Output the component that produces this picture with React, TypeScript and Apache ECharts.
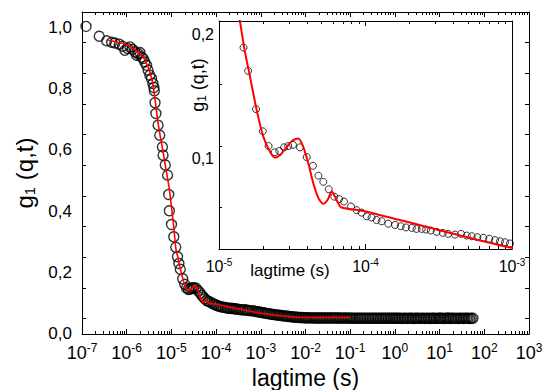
import React, { useEffect, useRef } from "react";
import * as echarts from "echarts";

// ---- measured correlation data (lag time in s, g1) ----
const earlyLag = [1.23e-7, 2.43e-7, 3.56e-7, 4.6e-7, 5.45e-7, 6.8e-7, 8.1e-7, 9.1e-7, 1.05e-6, 1.18e-6, 1.36e-6, 1.53e-6, 1.67e-6, 1.81e-6, 1.97e-6, 2.15e-6, 2.34e-6, 2.54e-6, 2.78e-6, 3.01e-6, 3.29e-6, 3.58e-6, 3.85e-6, 4.05e-6, 4.15e-6, 4.3e-6, 4.5e-6, 5.03e-6, 5.48e-6, 6.3e-6, 6.5e-6, 7.3e-6, 8.2e-6, 8.7e-6, 9.0e-6, 1.005e-5, 1.13e-5, 1.25e-5, 1.37e-5];
const earlyG = [0.953, 0.921, 0.906, 0.901, 0.899, 0.895, 0.888, 0.875, 0.881, 0.886, 0.878, 0.870, 0.859, 0.864, 0.868, 0.853, 0.848, 0.837, 0.826, 0.810, 0.794, 0.783, 0.767, 0.754, 0.743, 0.704, 0.669, 0.631, 0.598, 0.560, 0.533, 0.501, 0.468, 0.405, 0.352, 0.307, 0.267, 0.233, 0.202];

const midLag = [1.47e-5, 1.58e-5, 1.79e-5, 1.99e-5, 2.18e-5, 2.40e-5, 2.58e-5, 2.78e-5, 2.97e-5, 3.20e-5, 3.57e-5, 3.97e-5, 4.38e-5, 4.77e-5, 5.15e-5, 5.61e-5, 6.12e-5, 6.6e-5, 7.13e-5, 7.96e-5, 8.71e-5, 9.42e-5, 1.02e-4, 1.10e-4, 1.19e-4, 1.29e-4, 1.43e-4, 1.59e-4, 1.74e-4, 1.89e-4, 2.07e-4, 2.23e-4, 2.42e-4, 2.59e-4, 2.79e-4, 3.06e-4, 3.37e-4, 3.67e-4, 4.08e-4, 4.49e-4, 4.91e-4, 5.31e-4, 5.80e-4, 6.37e-4, 7.00e-4, 7.66e-4, 8.28e-4, 8.96e-4, 9.68e-4];
const midG = [0.180, 0.161, 0.130, 0.112, 0.100, 0.095, 0.096, 0.099, 0.100, 0.101, 0.099, 0.091, 0.084, 0.076, 0.071, 0.065, 0.059, 0.057, 0.055, 0.051, 0.048, 0.046, 0.043, 0.042, 0.040, 0.039, 0.037, 0.036, 0.035, 0.034, 0.0336, 0.0328, 0.0328, 0.0323, 0.0315, 0.0304, 0.0296, 0.0288, 0.0282, 0.0288, 0.0274, 0.0269, 0.0261, 0.0256, 0.0248, 0.0237, 0.0228, 0.0220, 0.0210];

const tailLag = [
  1.05e-3, 1.14e-3, 1.24e-3, 1.35e-3, 1.47e-3, 1.6e-3, 1.74e-3, 1.89e-3, 2.05e-3, 2.23e-3, 2.42e-3, 2.63e-3, 2.86e-3, 3.11e-3, 3.38e-3, 3.67e-3, 3.99e-3, 4.34e-3, 4.71e-3, 5.12e-3, 5.57e-3, 6.05e-3, 6.57e-3, 7.14e-3, 7.76e-3, 8.43e-3, 9.16e-3, 9.95e-3,
  1.05e-2, 1.14e-2, 1.24e-2, 1.35e-2, 1.47e-2, 1.6e-2, 1.74e-2, 1.89e-2, 2.05e-2, 2.23e-2, 2.42e-2, 2.63e-2, 2.86e-2, 3.11e-2, 3.38e-2, 3.67e-2, 3.99e-2, 4.34e-2, 4.71e-2, 5.12e-2, 5.57e-2, 6.05e-2, 6.57e-2, 7.14e-2, 7.76e-2, 8.43e-2, 9.16e-2, 9.95e-2,
  0.105, 0.114, 0.124, 0.135, 0.147, 0.16, 0.174, 0.189, 0.205, 0.223, 0.242, 0.263, 0.286, 0.311, 0.338, 0.367, 0.399, 0.434, 0.471, 0.512, 0.557, 0.605, 0.657, 0.714, 0.776, 0.843, 0.916, 0.995,
  1.05, 1.14, 1.24, 1.35, 1.47, 1.6, 1.74, 1.89, 2.05, 2.23, 2.42, 2.63, 2.86, 3.11, 3.38, 3.67, 3.99, 4.34, 4.71, 5.12, 5.57, 6.05, 6.57, 7.14, 7.76, 8.43, 9.16, 9.95,
  10.5, 11.4, 12.4, 13.5, 14.7, 16.0, 17.4, 18.9, 20.5, 22.3, 24.2, 26.3, 28.6, 31.1, 33.8, 36.7, 39.9, 43.4, 47.1, 51.2, 55.7
];
const tailG = [
  0.0200, 0.0190, 0.0182, 0.0172, 0.0163, 0.0155, 0.0146, 0.0138, 0.0130, 0.0123, 0.0115, 0.0108, 0.0101, 0.0094, 0.0088, 0.0081, 0.0075, 0.0069, 0.0063, 0.0058, 0.0053, 0.0048, 0.0044, 0.0040, 0.0037, 0.0034, 0.0031, 0.0029,
  0.0027, 0.0026, 0.0025, 0.0024, 0.0024, 0.0023, 0.0022, 0.0023, 0.0021, 0.0022, 0.0020, 0.0021, 0.0020, 0.0019, 0.0021, 0.0019, 0.0020, 0.0018, 0.0020, 0.0019, 0.0018, 0.0019, 0.0017, 0.0019, 0.0018, 0.0017, 0.0018, 0.0016,
  0.0017, 0.0015, 0.0016, 0.0014, 0.0016, 0.0015, 0.0013, 0.0016, 0.0014, 0.0015, 0.0012, 0.0016, 0.0014, 0.0013, 0.0015, 0.0012, 0.0014, 0.0016, 0.0013, 0.0011, 0.0015, 0.0013, 0.0014, 0.0012, 0.0016, 0.0011, 0.0014, 0.0013,
  0.0012, 0.0016, 0.0010, 0.0014, 0.0009, 0.0015, 0.0012, 0.0008, 0.0016, 0.0011, 0.0013, 0.0007, 0.0015, 0.0010, 0.0014, 0.0009, 0.0017, 0.0011, 0.0008, 0.0014, 0.0012, 0.0006, 0.0015, 0.0010, 0.0013, 0.0008, 0.0016, 0.0011,
  0.0010, 0.0015, 0.0007, 0.0013, 0.0011, 0.0018, 0.0006, 0.0012, 0.0016, 0.0009, 0.0014, 0.0005, 0.0013, 0.0017, 0.0008, 0.0012, 0.0010, 0.0015, 0.0007, 0.0013, 0.0011
];

// ---- fit curve ----
const fitLag = [3.87e-7, 8.35e-7, 1.40e-6, 2.34e-6, 2.78e-6, 3.29e-6, 3.8e-6, 4.3e-6, 5.0e-6, 5.7e-6, 6.5e-6, 7.5e-6, 8.5e-6, 9.2e-6, 1.09e-5, 1.27e-5, 1.39e-5, 1.50e-5, 1.63e-5, 1.81e-5, 2.01e-5, 2.23e-5, 2.41e-5, 2.61e-5, 2.90e-5, 3.21e-5, 3.48e-5, 3.76e-5, 4.07e-5, 4.40e-5, 4.77e-5, 5.15e-5, 5.52e-5, 5.87e-5, 6.26e-5, 6.70e-5, 7.05e-5, 1.0e-4, 2.5e-4, 1.0e-3, 4.4e-3, 1.0e-2, 1.0e-1];
const fitG = [0.908, 0.897, 0.881, 0.853, 0.832, 0.805, 0.770, 0.715, 0.640, 0.590, 0.545, 0.490, 0.445, 0.410, 0.320, 0.224, 0.201, 0.177, 0.156, 0.129, 0.1075, 0.0954, 0.0906, 0.0927, 0.0994, 0.1048, 0.1062, 0.0994, 0.086, 0.070, 0.0578, 0.0532, 0.0565, 0.0631, 0.0578, 0.0511, 0.0498, 0.047, 0.035, 0.0175, 0.0065, 0.004, 0.004];

// ---- axes ticks / labels ----
const mainXTicks = [1e-7, 1e-6, 1e-5, 1e-4, 1e-3, 1e-2, 1e-1, 1, 10, 100, 1000];
const insetXTicks = [1e-5, 1e-4, 1e-3];
const mainYTicks = [0, 0.1, 0.2, 0.3, 0.4, 0.5, 0.6, 0.7, 0.8, 0.9, 1.0];
const mainYLabels = [0, 0.2, 0.4, 0.6, 0.8, 1.0];
const insetYTicks = [0.05, 0.1, 0.15];
const insetYLabels = [0.1, 0.2];

const FONT = "'Liberation Sans', Arial, Helvetica, sans-serif";

function minorLogTicks(fromExp: number, toExp: number): number[] {
  const out: number[] = [];
  for (let e = fromExp; e < toExp; e++) {
    for (let m = 2; m <= 9; m++) out.push(m * Math.pow(10, e));
  }
  return out;
}

const powFmt = (v: number) => `{b|10}{s|${Math.round(Math.log10(v))}}`;
const commaText = (v: number) => (Math.round(v * 10) / 10).toFixed(1).replace(".", ",");
const commaFmt = (v: number) => `{v|${commaText(v)}}`;

export default function App() {
  const ref = useRef<HTMLDivElement>(null);
  useEffect(() => {
    if (!ref.current) return;
    const chart = echarts.init(ref.current, undefined, { renderer: "svg" });

    const points = [
      ...earlyLag.map((t, i) => [t, earlyG[i]]),
      ...midLag.map((t, i) => [t, midG[i]]),
      ...tailLag.map((t, i) => [t, tailG[i]]),
    ];
    const fit = fitLag.map((t, i) => [t, fitG[i]]);

    const black = { color: "#000", width: 1 };
    const mainMinor = minorLogTicks(-7, 3);
    const insetMinor = minorLogTicks(-5, -3);

    const logX = (gridIndex: number, position: string, min: number, max: number, extra: any) => ({
      type: "log",
      logBase: 10,
      gridIndex,
      position,
      min,
      max,
      splitLine: { show: false },
      axisLine: { show: true, onZero: false, lineStyle: black },
      axisTick: { show: false },
      axisLabel: { show: false },
      ...extra,
    });

    const option: any = {
      animation: false,
      backgroundColor: "#fff",
      grid: [
        { left: 82, right: 21, top: 12, bottom: 56, outerBoundsMode: "none", containLabel: false },
        { left: 82, right: 21, top: 12, bottom: 56, outerBoundsMode: "none", containLabel: false },
        { left: 219, right: 38, top: 21, bottom: 141, outerBoundsMode: "none", containLabel: false },
        { left: 219, right: 38, top: 21, bottom: 141, outerBoundsMode: "none", containLabel: false },
      ],
      xAxis: [
        logX(0, "bottom", 1e-7, 1e3, {
          axisTick: { show: true, inside: true, length: 5, customValues: mainXTicks, lineStyle: black },
          axisLabel: {
            show: true,
            customValues: mainXTicks,
            margin: 8,
            formatter: powFmt,
            rich: {
              b: { fontSize: 18, fontFamily: FONT, color: "#000" },
              s: { fontSize: 12, fontFamily: FONT, color: "#000", padding: [0, 0, 9, 0] },
            },
          },
          name: "lagtime (s)",
          nameLocation: "middle",
          nameGap: 31,
          nameTextStyle: { fontSize: 23, fontFamily: FONT, color: "#000" },
        }),
        logX(0, "top", 1e-7, 1e3, {
          axisTick: { show: true, inside: true, length: 5, customValues: mainXTicks, lineStyle: black },
        }),
        logX(1, "bottom", 1e-7, 1e3, {
          axisLine: { show: false, onZero: false },
          axisTick: { show: true, inside: true, length: 3, customValues: mainMinor, lineStyle: black },
        }),
        logX(1, "top", 1e-7, 1e3, {
          axisLine: { show: false, onZero: false },
          axisTick: { show: true, inside: true, length: 3, customValues: mainMinor, lineStyle: black },
        }),
        logX(2, "bottom", 1e-5, 1e-3, {
          axisTick: { show: true, inside: true, length: 5, customValues: insetXTicks, lineStyle: black },
          axisLabel: {
            show: true,
            customValues: insetXTicks,
            margin: 8,
            formatter: powFmt,
            rich: {
              b: { fontSize: 16, fontFamily: FONT, color: "#000" },
              s: { fontSize: 10, fontFamily: FONT, color: "#000", padding: [0, 0, 8, 0] },
            },
          },
        }),
        logX(2, "top", 1e-5, 1e-3, {
          axisTick: { show: true, inside: true, length: 5, customValues: insetXTicks, lineStyle: black },
        }),
        logX(3, "bottom", 1e-5, 1e-3, {
          axisLine: { show: false, onZero: false },
          axisTick: { show: true, inside: true, length: 3, customValues: insetMinor, lineStyle: black },
        }),
        logX(3, "top", 1e-5, 1e-3, {
          axisLine: { show: false, onZero: false },
          axisTick: { show: true, inside: true, length: 3, customValues: insetMinor, lineStyle: black },
        }),
      ],
      yAxis: [
        {
          type: "value",
          gridIndex: 0,
          position: "left",
          min: -0.05,
          max: 1.0,
          splitLine: { show: false },
          axisLine: { show: true, onZero: false, lineStyle: black },
          axisTick: { show: true, inside: true, length: 4, customValues: mainYTicks, lineStyle: black },
          axisLabel: {
            customValues: mainYLabels,
            formatter: commaFmt,
            margin: 10,
            rich: {
              v: { fontSize: 17, fontFamily: FONT, color: "#000", padding: [30, 0, 0, 0] },
            },
          },
          name: "{g|g}{sub|1}{g| (q,t)}",
          nameLocation: "middle",
          nameGap: 44,
          nameTextStyle: {
            rich: {
              g: { fontSize: 24, fontFamily: FONT, color: "#000" },
              sub: { fontSize: 15, fontFamily: FONT, color: "#000", padding: [11, 0, 0, 0] },
            },
          },
        },
        {
          type: "value",
          gridIndex: 0,
          position: "right",
          min: -0.05,
          max: 1.0,
          splitLine: { show: false },
          axisLine: { show: true, onZero: false, lineStyle: black },
          axisTick: { show: true, inside: true, length: 4, customValues: mainYTicks, lineStyle: black },
          axisLabel: { show: false },
        },
        { type: "value", gridIndex: 1, min: -0.05, max: 1.0, show: false },
        {
          type: "value",
          gridIndex: 2,
          position: "left",
          min: 0.0165,
          max: 0.2015,
          splitLine: { show: false },
          axisLine: { show: true, onZero: false, lineStyle: black },
          axisTick: { show: true, inside: true, length: 3, customValues: insetYTicks, lineStyle: black },
          axisLabel: {
            customValues: insetYLabels,
            formatter: commaFmt,
            margin: 5,
            rich: {
              v: { fontSize: 16, fontFamily: FONT, color: "#000", padding: [24, 0, 0, 0] },
            },
          },
        },
        {
          type: "value",
          gridIndex: 2,
          position: "right",
          min: 0.0165,
          max: 0.2015,
          splitLine: { show: false },
          axisLine: { show: true, onZero: false, lineStyle: black },
          axisTick: { show: false },
          axisLabel: { show: false },
        },
        { type: "value", gridIndex: 3, min: 0.0165, max: 0.2015, show: false },
      ],
      graphic: [
        {
          type: "text",
          x: 290,
          y: 270,
          style: { text: "lagtime (s)", fontSize: 17, fontFamily: FONT, fill: "#000", align: "center", verticalAlign: "middle" },
        },
        {
          type: "text",
          x: 198,
          y: 85,
          rotation: Math.PI / 2,
          style: {
            text: "{g|g}{sub|1}{g| (q,t)}",
            align: "center",
            verticalAlign: "middle",
            rich: {
              g: { fontSize: 18, fontFamily: FONT, fill: "#000" },
              sub: { fontSize: 12, fontFamily: FONT, fill: "#000", padding: [8, 0, 0, 0] },
            },
          },
        },
      ],
      series: [
        {
          type: "scatter",
          xAxisIndex: 0,
          yAxisIndex: 0,
          data: points,
          symbol: "circle",
          symbolSize: 10,
          itemStyle: { color: "rgba(0,0,0,0)", borderColor: "#000", borderWidth: 1.4 },
          z: 2,
          silent: true,
        },
        {
          type: "line",
          xAxisIndex: 0,
          yAxisIndex: 0,
          data: fit,
          showSymbol: false,
          symbol: "none",
          smooth: 0.25,
          lineStyle: { color: "#ff0000", width: 1.6 },
          z: 3,
          silent: true,
        },
        {
          type: "scatter",
          xAxisIndex: 4,
          yAxisIndex: 3,
          data: points,
          symbol: "circle",
          symbolSize: 7,
          clip: true,
          itemStyle: { color: "rgba(0,0,0,0)", borderColor: "#000", borderWidth: 1 },
          z: 2,
          silent: true,
        },
        {
          type: "line",
          xAxisIndex: 4,
          yAxisIndex: 3,
          data: fit,
          showSymbol: false,
          symbol: "none",
          smooth: 0.25,
          clip: true,
          lineStyle: { color: "#ff0000", width: 2 },
          z: 3,
          silent: true,
        },
      ],
    };

    chart.setOption(option);
    return () => chart.dispose();
  }, []);

  return (
    <div
      ref={ref}
      style={{ position: "fixed", left: 0, top: 0, width: 550, height: 390, background: "#fff" }}
    />
  );
}
